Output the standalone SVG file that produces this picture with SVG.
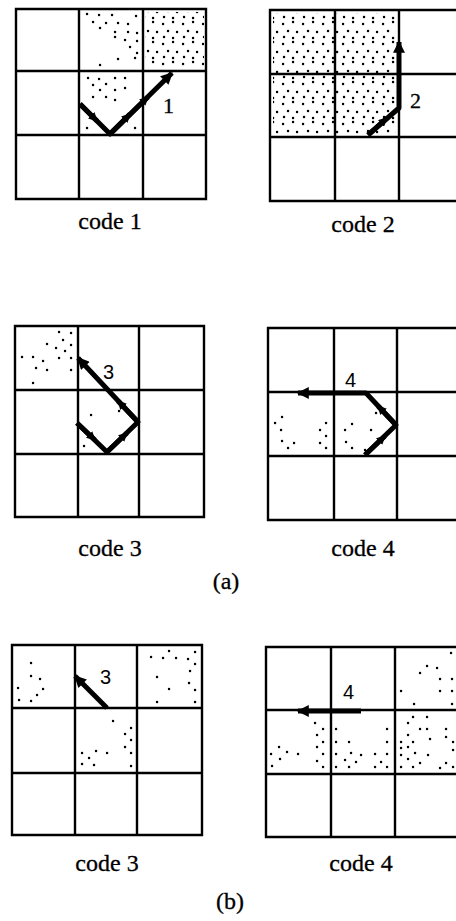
<svg xmlns="http://www.w3.org/2000/svg" width="456" height="921" viewBox="0 0 456 921">
<style>
.grid{fill:none;stroke:#000;stroke-width:2.4}
.dot{fill:none;stroke:#000;stroke-width:2.4;stroke-linecap:round}
.arr{fill:none;stroke:#000;stroke-width:5;stroke-linejoin:round}
.nub{fill:none;stroke:#000;stroke-width:5}
.cap{font-family:"Liberation Serif","Times New Roman",serif;font-size:24px;text-anchor:middle;fill:#000;stroke:#000;stroke-width:0.3}
.num{font-family:"Liberation Serif","Times New Roman",serif;font-size:22px;fill:#000;stroke:#000;stroke-width:0.3}
.nums{font-family:"Liberation Sans",Arial,sans-serif;font-size:20px;fill:#000}
</style>
<defs>
<pattern id="stip" width="20" height="20" patternUnits="userSpaceOnUse">
<path class="dot" d="M3 4h.1M13 2h.1M8 11h.1M17 12h.1M4 17h.1M13 18h.1"/>
</pattern>
<marker id="ah" viewBox="0 0 10 10" refX="9" refY="5" markerWidth="15" markerHeight="12" markerUnits="userSpaceOnUse" orient="auto">
<path d="M0 0L10 5L0 10z"/>
</marker>
<marker id="nb" viewBox="0 0 10 10" refX="9" refY="5" markerWidth="9" markerHeight="9" markerUnits="userSpaceOnUse" orient="auto">
<path d="M0 0L10 5L0 10z"/>
</marker>
</defs>

<g id="code1">
<rect x="145" y="12" width="59" height="57" fill="url(#stip)"/>
<path class="dot" d="M87 14h.1M99 15h.1M112 15h.1M136 16h.1M93 22h.1M106 23h.1M118 23h.1M128 24h.1M100 28h.1M115 32h.1M128 32h.1M137 33h.1M115 37h.1M125 40h.1M137 41h.1M130 47h.1M137 53h.1M118 59h.1M135 58h.1M100 65h.1M88 78h.1M99 79h.1M115 78h.1M125 78h.1M93 85h.1M106 84h.1M100 90h.1M115 90h.1M93 97h.1M106 97h.1M115 100h.1M125 88h.1M87 128h.1M135 128h.1"/>
<path class="grid" d="M16 9H206V199H16ZM79 9V199M143 9V199M16 71H206M16 135H206"/>
<path class="arr" d="M80 104L110 134L172 73" marker-end="url(#ah)"/>
<path class="nub" d="M80 104L97 121" marker-end="url(#nb)"/>
<path class="nub" d="M110 134L130 114" marker-end="url(#nb)"/>
<path class="nub" d="M110 134L148 97" marker-end="url(#nb)"/>
<text class="num" x="163" y="113">1</text>
<text class="cap" x="110" y="229">code 1</text>
</g>

<g id="code2">
<rect x="273" y="13" width="123" height="122" fill="url(#stip)"/>
<path class="grid" d="M270 10H463V201H270ZM335 10V201M399 10V201M270 74H463M270 137H463"/>
<path class="arr" d="M368 135L399 108L399 42" marker-end="url(#ah)"/>
<path class="nub" d="M368 135L387 118" marker-end="url(#nb)"/>
<text class="num" x="410" y="108">2</text>
<text class="cap" x="363" y="232">code 2</text>
</g>

<g id="code3a">
<path class="dot" d="M59 332h.1M71 333h.1M47 344h.1M63 340h.1M56 348h.1M71 345h.1M65 351h.1M22 357h.1M33 357h.1M43 361h.1M59 358h.1M71 358h.1M36 368h.1M47 370h.1M71 370h.1M33 383h.1M91 415h.1M119 411h.1M84 446h.1M82 427h.1"/>
<path class="grid" d="M15 326H204V517H15ZM78 326V517M139 326V517M15 390H204M15 454H204"/>
<path class="arr" d="M77 423L107 452L138 422L78 358" marker-end="url(#ah)"/>
<path class="nub" d="M77 423L95 440" marker-end="url(#nb)"/>
<path class="nub" d="M107 452L127 433" marker-end="url(#nb)"/>
<path class="nub" d="M138 422L118 401" marker-end="url(#nb)"/>
<text class="nums" x="103" y="379">3</text>
<text class="cap" x="110" y="556">code 3</text>
</g>

<g id="code4a">
<path class="dot" d="M282 417h.1M275 423h.1M281 430h.1M282 441h.1M288 448h.1M294 443h.1M326 423h.1M320 430h.1M326 436h.1M320 443h.1M326 448h.1M352 424h.1M345 430h.1M346 442h.1M352 448h.1M371 430h.1M376 413h.1M365 450h.1"/>
<path class="grid" d="M268 328H463V520H268ZM334 328V520M397 328V520M268 392H463M268 456H463"/>
<path class="arr" d="M365 455L396 425L366 393L298 393" marker-end="url(#ah)"/>
<path class="nub" d="M365 455L385 436" marker-end="url(#nb)"/>
<path class="nub" d="M396 425L378 406" marker-end="url(#nb)"/>
<text class="nums" x="345" y="387">4</text>
<text class="cap" x="363" y="556">code 4</text>
</g>

<text id="label-a" class="cap" x="226" y="589">(a)</text>

<g id="code3b">
<path class="dot" d="M31 663h.1M31 676h.1M40 679h.1M18 688h.1M43 689h.1M37 695h.1M19 700h.1M31 701h.1M169 651h.1M151 657h.1M163 658h.1M176 658h.1M188 659h.1M195 652h.1M195 664h.1M190 671h.1M157 677h.1M189 683h.1M169 689h.1M195 690h.1M157 702h.1M195 702h.1M113 721h.1M131 728h.1M125 734h.1M131 740h.1M125 747h.1M82 753h.1M96 751h.1M107 753h.1M131 753h.1M89 758h.1M82 764h.1M94 765h.1M131 766h.1"/>
<path class="grid" d="M12 645H202V835H12ZM75 645V835M137 645V835M12 708H202M12 773H202"/>
<path class="arr" d="M107 708L75 676" marker-end="url(#ah)"/>
<text class="nums" x="100" y="684">3</text>
<text class="cap" x="107" y="871">code 3</text>
</g>

<g id="code4b">
<path class="dot" d="M315 723h.1M323 729h.1M317 735h.1M323 742h.1M317 747h.1M323 754h.1M317 761h.1M323 767h.1M271 754h.1M279 747h.1M287 752h.1M298 754h.1M280 759h.1M272 766h.1M336 729h.1M387 729h.1M336 742h.1M349 742h.1M387 742h.1M336 754h.1M351 753h.1M361 755h.1M375 754h.1M387 754h.1M345 760h.1M356 762h.1M336 767h.1M349 767h.1M375 767h.1M387 767h.1M381 762h.1M413 717h.1M427 717h.1M408 723h.1M420 729h.1M427 729h.1M446 729h.1M408 735h.1M401 742h.1M413 742h.1M430 739h.1M446 737h.1M453 742h.1M401 748h.1M408 747h.1M415 753h.1M428 755h.1M453 750h.1M401 755h.1M408 759h.1M420 763h.1M401 767h.1M413 767h.1M440 768h.1M446 763h.1M453 767h.1M451 653h.1M427 666h.1M437 668h.1M420 673h.1M440 679h.1M452 679h.1M401 691h.1M440 691h.1M452 691h.1M414 704h.1M452 704h.1"/>
<path class="grid" d="M266 647H463V837H266ZM331 647V837M395 647V837M266 710H463M266 774H463"/>
<path class="arr" d="M361 711L298 711" marker-end="url(#ah)"/>
<text class="nums" x="343" y="699">4</text>
<text class="cap" x="361" y="871">code 4</text>
</g>

<text id="label-b" class="cap" x="230" y="909">(b)</text>
</svg>
